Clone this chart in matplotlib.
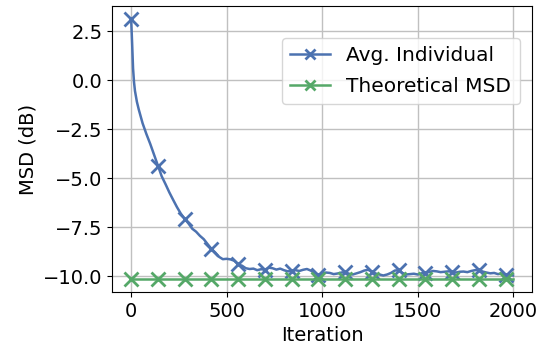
import numpy as np
import matplotlib
matplotlib.use("Agg")
import matplotlib.pyplot as plt

iters = [0, 5, 10, 15, 20, 30, 40, 60, 80, 100, 120] + list(range(140, 2000, 20)) + [1999]

avg_individual = [
    3.12, 1.9, 0.6, -0.1, -0.55, -1.1, -1.5, -2.2, -2.75, -3.25, -3.8,
    -4.35, -4.9, -5.3, -5.72, -6.1, -6.47, -6.8,
    -7.06, -7.3, -7.57, -7.72, -7.93, -8.1, -8.35,
    -8.59, -8.78, -9.0, -9.12, -9.1, -9.13, -9.2,
    -9.39, -9.45, -9.58, -9.62, -9.6, -9.68, -9.63,
    -9.66, -9.55, -9.58, -9.65, -9.6, -9.68, -9.74,
    -9.72, -9.68, -9.72, -9.66, -9.62, -9.7, -9.82,
    -9.92, -9.85, -9.8, -9.82, -9.88, -9.85, -9.8,
    -9.78, -9.86, -9.9, -9.84, -9.78, -9.7, -9.66,
    -9.75, -9.85, -9.9, -9.95, -9.9, -9.82, -9.7,
    -9.68, -9.82, -9.9, -9.88, -9.86, -9.9, -9.84,
    -9.8, -9.78, -9.72, -9.74, -9.78, -9.76, -9.74,
    -9.76, -9.8, -9.76, -9.75, -9.78, -9.72, -9.68,
    -9.66, -9.75, -9.8, -9.84, -9.82, -9.88, -9.85,
    -9.9, -9.93, -9.95,
]
theoretical = [-10.13] * len(iters)

marker_idx = [i for i, it in enumerate(iters) if it % 140 == 0]

plt.rcParams['font.size'] = 14
fig = plt.figure(figsize=(5.52, 3.46), dpi=100)
ax = fig.add_axes([0.203, 0.156, 0.761, 0.827])

ax.plot(iters, avg_individual, color="#4C72B0", lw=1.8, marker="x",
        markersize=10, markeredgewidth=2, markevery=marker_idx,
        label="Avg. Individual")
ax.plot(iters, theoretical, color="#55A868", lw=1.8, marker="x",
        markersize=10, markeredgewidth=2, markevery=marker_idx,
        label="Theoretical MSD")

ax.set_xticks([0, 500, 1000, 1500, 2000])
ax.set_yticks([-10, -7.5, -5, -2.5, 0, 2.5])
ax.grid(True, color="#c0c0c0", lw=1)
ax.set_axisbelow(True)
ax.set_xlabel("Iteration")
ax.set_ylabel("MSD (dB)")
ax.legend(loc="upper right", bbox_to_anchor=(0.994, 0.922), framealpha=0.8,
          fontsize=14.5, markerscale=0.7, labelspacing=0.6)

fig.savefig("out.png", dpi=100)
